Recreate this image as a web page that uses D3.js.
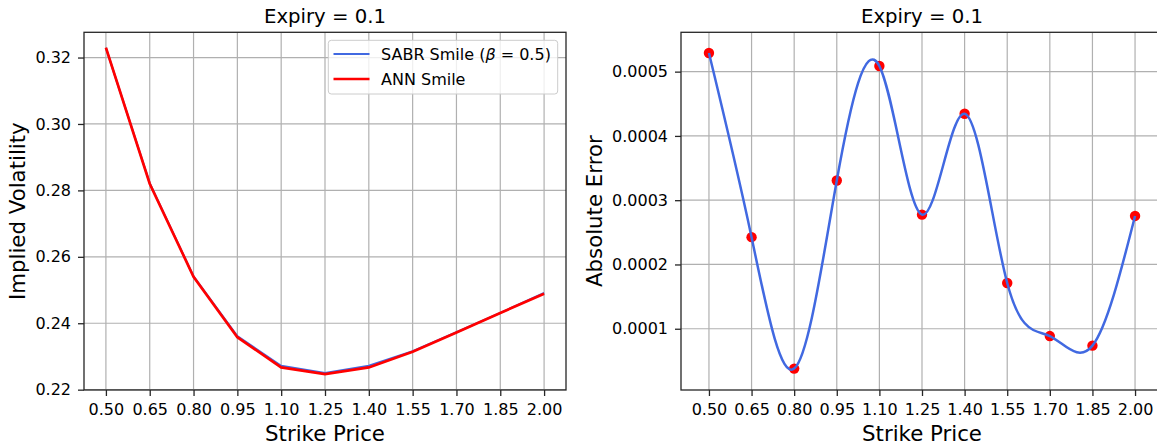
<!DOCTYPE html>
<html><head><meta charset="utf-8">
<script src="https://cdn.jsdelivr.net/npm/d3@7"></script>
<style>
body{margin:0;background:#fff}
svg{display:block;font-family:"DejaVu Sans",sans-serif}
</style>
</head><body>
<svg id="c" width="1157" height="448"></svg>
<script>
// ---- data ----
const strikes = [0.50, 0.65, 0.80, 0.95, 1.10, 1.25, 1.40, 1.55, 1.70, 1.85, 2.00];
const strikeTickLabels = ["0.50","0.65","0.80","0.95","1.10","1.25","1.40","1.55","1.70","1.85","2.00"];
const sabrSmile = [0.3229, 0.2822, 0.2541, 0.2361, 0.2272, 0.2250, 0.2272, 0.2316, 0.2373, 0.2431, 0.2491];
const annSmile  = [0.3230, 0.2820, 0.2540, 0.2358, 0.2267, 0.2247, 0.2267, 0.2314, 0.2372, 0.2431, 0.2489];
const absError  = [0.000529, 0.0002425, 0.000038, 0.0003307, 0.0005088, 0.0002775, 0.0004345, 0.0001712, 0.0000886, 0.0000737, 0.0002755];
const volTicks = [0.22, 0.24, 0.26, 0.28, 0.30, 0.32];
const volTickLabels = ["0.22","0.24","0.26","0.28","0.30","0.32"];
const errTicks = [0.0001, 0.0002, 0.0003, 0.0004, 0.0005];
const errTickLabels = ["0.0001","0.0002","0.0003","0.0004","0.0005"];
const titleText = "Expiry = 0.1";
const xLabelText = "Strike Price";
const leftYLabel = "Implied Volatility";
const rightYLabel = "Absolute Error";
const legendNames = ["SABR Smile", "ANN Smile"];

// axis limits
const xLimLeft = [0.425, 2.075];
const yLimLeft = [0.2199, 0.3276];
const xLimRight = [0.4016, 2.0984];
const yLimRight = [0.0000047, 0.0005612];

const svg = d3.select("#c");
const TOP = 32.3, BOTTOM = 390;
const FONT = '"DejaVu Sans", sans-serif';
const BLUE = "#4169e1", RED = "#ff0000";

function panel(id, left, right, xLim, yLim, yTicks, yTickLabels, yLabel, yLabelX) {
  const x = d3.scaleLinear().domain(xLim).range([left, right]);
  const y = d3.scaleLinear().domain(yLim).range([BOTTOM, TOP]);
  const g = svg.append("g");
  svg.append("clipPath").attr("id", "clip" + id)
    .append("rect").attr("x", left).attr("y", TOP).attr("width", right - left).attr("height", BOTTOM - TOP);
  // grid
  const grid = g.append("g").attr("clip-path", `url(#clip${id})`);
  grid.selectAll("line.gx").data(strikes).join("line")
    .attr("x1", d => x(d)).attr("x2", d => x(d)).attr("y1", TOP).attr("y2", BOTTOM)
    .attr("stroke", "#b0b0b0").attr("stroke-width", 1.2);
  grid.selectAll("line.gy").data(yTicks).join("line")
    .attr("y1", d => y(d)).attr("y2", d => y(d)).attr("x1", left).attr("x2", right)
    .attr("stroke", "#b0b0b0").attr("stroke-width", 1.2);
  const plot = g.append("g").attr("clip-path", `url(#clip${id})`);
  // axes via d3
  const xAxis = d3.axisBottom(x).tickValues(strikes).tickFormat((d, i) => strikeTickLabels[i]).tickSize(6).tickPadding(8);
  const yAxis = d3.axisLeft(y).tickValues(yTicks).tickFormat((d, i) => yTickLabels[i]).tickSize(6).tickPadding(7);
  const ax = g.append("g").attr("transform", `translate(0,${BOTTOM})`).call(xAxis);
  const ay = g.append("g").attr("transform", `translate(${left},0)`).call(yAxis);
  [ax, ay].forEach(a => {
    a.select(".domain").remove();
    a.selectAll("line").attr("stroke", "#262626").attr("stroke-width", 1.3);
    a.selectAll("text").attr("font-family", FONT).attr("font-size", 16).attr("fill", "#000");
  });
  ax.selectAll("text").attr("dy", null).attr("y", 24.5);
  // spines
  g.append("rect").attr("x", left).attr("y", TOP).attr("width", right - left).attr("height", BOTTOM - TOP)
    .attr("fill", "none").attr("stroke", "#262626").attr("stroke-width", 1.3);
  // title
  g.append("text").attr("x", (left + right) / 2).attr("y", 22.7).attr("text-anchor", "middle")
    .attr("font-size", 19.7).attr("font-family", FONT).text(titleText);
  // x label
  g.append("text").attr("x", (left + right) / 2).attr("y", 440.5).attr("text-anchor", "middle")
    .attr("font-size", 21.3).attr("font-family", FONT).text(xLabelText);
  // y label
  g.append("text").attr("transform", `translate(${yLabelX},${(TOP + BOTTOM) / 2}) rotate(-90)`)
    .attr("text-anchor", "middle").attr("font-size", 21.3).attr("font-family", FONT).text(yLabel);
  return {x, y, plot, g};
}

// ---- left panel ----
const L = panel("L", 84, 566, xLimLeft, yLimLeft, volTicks, volTickLabels, leftYLabel, 25);
const lineL = d3.line().x((d, i) => L.x(strikes[i])).y(d => L.y(d));
L.plot.append("path").datum(sabrSmile).attr("d", lineL)
  .attr("fill", "none").attr("stroke", BLUE).attr("stroke-width", 2);
L.plot.append("path").datum(annSmile).attr("d", lineL)
  .attr("fill", "none").attr("stroke", RED).attr("stroke-width", 2.7);

// legend
const lg = L.g.append("g");
lg.append("rect").attr("x", 328.3).attr("y", 40.3).attr("width", 229.4).attr("height", 53.7)
  .attr("rx", 3).attr("fill", "#fff").attr("fill-opacity", 0.8).attr("stroke", "#cccccc").attr("stroke-width", 1);
const legColors = [BLUE, RED];
const legY = [54, 79];
legendNames.forEach((n, i) => {
  lg.append("line").attr("x1", 333.5).attr("x2", 369.5).attr("y1", legY[i]).attr("y2", legY[i])
    .attr("stroke", legColors[i]).attr("stroke-width", i === 0 ? 2 : 2.7);
  const t = lg.append("text").attr("x", 381).attr("y", legY[i] + 6).attr("font-size", 16).attr("font-family", FONT);
  if (i === 0) {
    t.append("tspan").text(n + " (");
    t.append("tspan").attr("font-style", "italic").text("β");
    t.append("tspan").text(" = 0.5)");
  } else {
    t.text(n);
  }
});

// ---- right panel ----
const R = panel("R", 681, 1163, xLimRight, yLimRight, errTicks, errTickLabels, rightYLabel, 602);
R.plot.selectAll("circle").data(absError).join("circle")
  .attr("cx", (d, i) => R.x(strikes[i])).attr("cy", d => R.y(d)).attr("r", 5.2).attr("fill", RED);
const lineR = d3.line().x((d, i) => R.x(strikes[i])).y(d => R.y(d)).curve(d3.curveNatural);
R.plot.append("path").datum(absError).attr("d", lineR)
  .attr("fill", "none").attr("stroke", BLUE).attr("stroke-width", 2.5);
</script>
</body></html>
